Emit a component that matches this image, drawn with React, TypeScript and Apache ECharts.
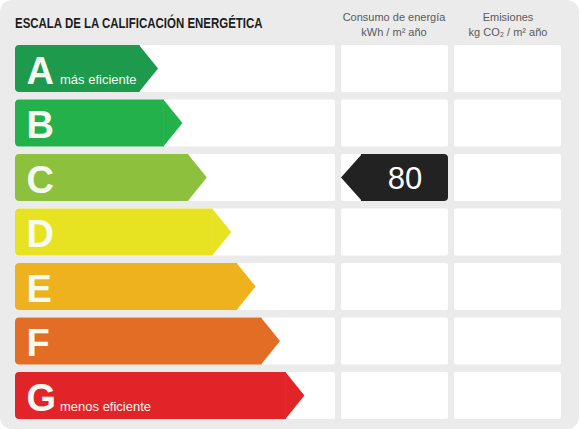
import React, { useEffect, useRef } from 'react';
import * as echarts from 'echarts';

// ---- data ----
const ratings = ['A', 'B', 'C', 'D', 'E', 'F', 'G'];
const ratingColors = ['#1d9a4c', '#23b14b', '#8cc03d', '#e7e322', '#eeb21f', '#e36d24', '#e12428'];
const ratingNotes = ['más eficiente', '', '', '', '', '', 'menos eficiente'];
const consumoRatings = ['C'];
const consumoValues = [80];
const emisionesRatings: string[] = [];
const emisionesValues: number[] = [];
const titleText = 'ESCALA DE LA CALIFICACIÓN ENERGÉTICA';
const consumoHeader = ['Consumo de energía', 'kWh / m² año'];
const emisionesHeader = ['Emisiones', 'kg CO₂ / m² año'];

// ---- layout constants (axis units ~ px from grid left) ----
const W = 581;
const H = 429;
const GRID_LEFT = 15;
const GRID_WIDTH = 546;
const GRID_TOP = 41.25;
const GRID_HEIGHT = 381.5;
const ROW_GAP = 7.5;
const COLS: [number, number][] = [[0, 320], [326, 433], [439, 546]];
const ARROW_A_TIP = 143;
const ARROW_STEP = 24.4;
const ARROW_HEAD = 19;
const MARKER_HEAD = 21;

function rowBox(api: any, idx: number) {
  const c = api.coord([0, idx]);
  const bandH = api.size([0, 1])[1];
  const h = bandH - ROW_GAP;
  return { top: c[1] - h / 2, mid: c[1], bottom: c[1] + h / 2, h };
}

export default function App() {
  const ref = useRef<HTMLDivElement>(null);
  useEffect(() => {
    if (!ref.current) return;
    const chart = echarts.init(ref.current, undefined, { renderer: 'svg' });
    const font = '"Liberation Sans", Arial, sans-serif';

    const markerSeries = (rs: string[], vs: number[], col: [number, number]) => ({
      type: 'custom',
      z: 5,
      encode: { x: 1, y: 0 },
      data: rs.map((r, k) => [ratings.indexOf(r), vs[k]]),
      renderItem: (params: any, api: any) => {
        const idx = api.value(0);
        const val = api.value(1);
        const b = rowBox(api, idx);
        const tip = api.coord([col[0], idx])[0];
        const body = api.coord([col[0] + MARKER_HEAD, idx])[0];
        const right = api.coord([col[1], idx])[0];
        return {
          type: 'group',
          children: [
            { type: 'rect', shape: { x: body - 1, y: b.top, width: right - body + 1, height: b.h, r: [0, 4, 4, 0] }, style: { fill: '#222222' } },
            { type: 'polygon', shape: { points: [[body, b.top], [tip, b.mid], [body, b.bottom]] }, style: { fill: '#222222' } },
            {
              type: 'text',
              x: (body + right) / 2,
              y: b.mid + 1,
              style: {
                text: String(val), fill: '#ffffff',
                font: `31px ${font}`, align: 'center', verticalAlign: 'middle',
              },
            },
          ],
        };
      },
    });

    chart.setOption({
      animation: false,
      grid: { left: GRID_LEFT, top: GRID_TOP, width: GRID_WIDTH, height: GRID_HEIGHT },
      xAxis: { type: 'value', min: 0, max: GRID_WIDTH, show: false },
      yAxis: { type: 'category', data: ratings, inverse: true, show: false },
      graphic: [
        { type: 'rect', z: -10, shape: { x: 0, y: 0, width: W - 2, height: H, r: 12 }, style: { fill: '#ebebeb' } },
        { type: 'text', x: 15, y: 23, scaleX: 0.765, style: { text: titleText, fill: '#1e1e1e', font: `bold 15px ${font}`, verticalAlign: 'middle' } },
        { type: 'text', x: 394, y: 17, style: { text: consumoHeader[0], fill: '#5a5a5a', font: `11px ${font}`, align: 'center', verticalAlign: 'middle' } },
        { type: 'text', x: 394, y: 32, style: { text: consumoHeader[1], fill: '#5a5a5a', font: `11px ${font}`, align: 'center', verticalAlign: 'middle' } },
        { type: 'text', x: 508, y: 17, style: { text: emisionesHeader[0], fill: '#5a5a5a', font: `11px ${font}`, align: 'center', verticalAlign: 'middle' } },
        { type: 'text', x: 508, y: 32, style: { text: emisionesHeader[1], fill: '#5a5a5a', font: `11px ${font}`, align: 'center', verticalAlign: 'middle' } },
      ],
      series: [
        {
          type: 'custom',
          z: 1,
          data: ratings.map((r, i) => [i, r]),
          encode: { y: 1 },
          renderItem: (params: any, api: any) => {
            const idx = params.dataIndex;
            const b = rowBox(api, idx);
            return {
              type: 'group',
              children: COLS.map(([a, c]) => {
                const xa = api.coord([a, idx])[0];
                const xc = api.coord([c, idx])[0];
                return { type: 'rect', shape: { x: xa, y: b.top, width: xc - xa, height: b.h, r: 2 }, style: { fill: '#ffffff' } };
              }),
            };
          },
        },
        {
          type: 'custom',
          z: 3,
          data: ratings.map((r, i) => [i, r]),
          encode: { y: 1 },
          renderItem: (params: any, api: any) => {
            const idx = params.dataIndex;
            const b = rowBox(api, idx);
            const x0 = api.coord([0, idx])[0];
            const tipU = ARROW_A_TIP + ARROW_STEP * idx;
            const tip = api.coord([tipU, idx])[0];
            const body = api.coord([tipU - ARROW_HEAD, idx])[0];
            const color = ratingColors[idx];
            const children: any[] = [
              { type: 'rect', shape: { x: x0, y: b.top, width: body - x0 + 0.5, height: b.h, r: [4, 0, 0, 4] }, style: { fill: color } },
              { type: 'polygon', shape: { points: [[body, b.top], [tip, b.mid], [body, b.bottom]] }, style: { fill: color } },
              {
                type: 'text',
                x: api.coord([11.5, idx])[0],
                y: b.mid + 2,
                style: {
                  text: ratings[idx], fill: '#f6fbf2',
                  font: `bold 38px ${font}`, align: 'left', verticalAlign: 'middle',
                },
              },
            ];
            if (ratingNotes[idx]) {
              children.push({
                type: 'text',
                x: api.coord([45, idx])[0],
                y: b.bottom - 6,
                style: {
                  text: ratingNotes[idx], fill: '#f6fbf2',
                  font: `13px ${font}`, align: 'left', verticalAlign: 'bottom',
                },
              });
            }
            return { type: 'group', children };
          },
        },
        markerSeries(consumoRatings, consumoValues, COLS[1]),
        markerSeries(emisionesRatings, emisionesValues, COLS[2]),
      ],
    } as any);
    return () => chart.dispose();
  }, []);
  return <div ref={ref} style={{ position: 'absolute', left: 0, top: 0, width: W, height: H, background: '#ffffff' }} />;
}
